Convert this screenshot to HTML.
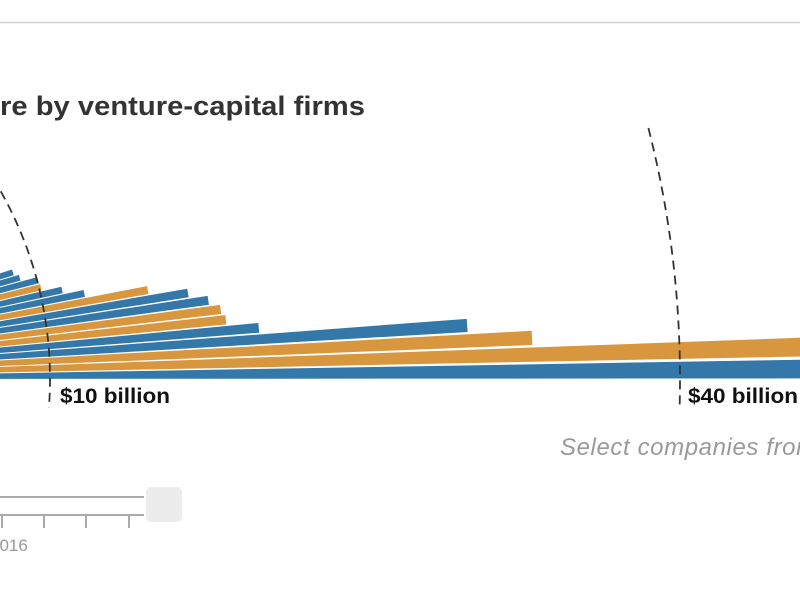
<!DOCTYPE html>
<html><head><meta charset="utf-8"><style>
html,body{margin:0;padding:0;background:#fff;overflow:hidden}
svg{display:block}
</style></head><body>
<svg width="800" height="606" viewBox="0 0 800 606" xmlns="http://www.w3.org/2000/svg" font-family="Liberation Sans, sans-serif">
<line x1="0" y1="22.5" x2="800" y2="22.5" stroke="#cfcfcf" stroke-width="1.5"/>
<text x="0" y="115" font-size="27" font-weight="bold" fill="#333" textLength="365" lengthAdjust="spacingAndGlyphs">re by venture-capital firms</text>
<g id="bars"></g>
<path id="a10" d="" fill="none" stroke="#333" stroke-width="1.8" stroke-dasharray="9,6"/>
<path id="a40" d="" fill="none" stroke="#333" stroke-width="1.8" stroke-dasharray="9,6"/>
<text x="60" y="403" font-size="21" font-weight="bold" fill="#111" textLength="110" lengthAdjust="spacingAndGlyphs">$10 billion</text>
<text x="688" y="403" font-size="21" font-weight="bold" fill="#111" textLength="110" lengthAdjust="spacingAndGlyphs">$40 billion</text>
<text x="560" y="455" font-size="24" font-style="italic" fill="#999" letter-spacing="0.6">Select companies from</text>
<line x1="0" y1="497" x2="144" y2="497" stroke="#aaa" stroke-width="2"/>
<line x1="0" y1="515" x2="144" y2="515" stroke="#aaa" stroke-width="2"/>
<g stroke="#aaa" stroke-width="2">
<line x1="2" y1="515" x2="2" y2="528"/><line x1="44" y1="515" x2="44" y2="528"/>
<line x1="86" y1="515" x2="86" y2="528"/><line x1="129" y1="515" x2="129" y2="528"/>
</g>
<rect x="146" y="487" width="36" height="35" rx="5" fill="#ececec"/>
<text x="-10" y="551" font-size="17" fill="#999">2016</text>
</svg>
<script>
(function(){
var cx=-332, cy=379;
var L=[1400,1400,865,801,593,561,557,546,527,488,425,404,384,383,366,361,345,335,330];
var C=['#3378a8','#d8963f','#d8963f','#3378a8','#3378a8','#d8963f','#d8963f','#3378a8','#3378a8','#d8963f','#3378a8','#3378a8','#d8963f','#3378a8','#3378a8','#3378a8','#7ab85a','#3378a8','#3378a8'];
var g=document.getElementById('bars'), ns='http://www.w3.org/2000/svg';
for(var i=0;i<L.length;i++){
  var a0=i*0.0194+0.0005, a1=a0+0.0165, r=L[i];
  var p=document.createElementNS(ns,'path');
  var x0=cx+r*Math.cos(a0), y0=cy-r*Math.sin(a0), x1=cx+r*Math.cos(a1), y1=cy-r*Math.sin(a1);
  p.setAttribute('d','M'+cx+' '+cy+' L'+x0+' '+y0+' L'+x1+' '+y1+' Z');
  p.setAttribute('fill',C[i]);
  g.appendChild(p);
}
function arc(id,r,ytop,ybot){
  var aT=Math.asin((cy-ytop)/r), aB=Math.asin((cy-ybot)/r);
  var d='';
  for(var k=0;k<=60;k++){
    var a=aT+(aB-aT)*k/60;
    d+=(k?'L':'M')+(cx+r*Math.cos(a)).toFixed(2)+' '+(cy-r*Math.sin(a)).toFixed(2);
  }
  document.getElementById(id).setAttribute('d',d);
}
arc('a10',382,130,408);
arc('a40',1012,128,408);
})();
</script>
</body></html>
